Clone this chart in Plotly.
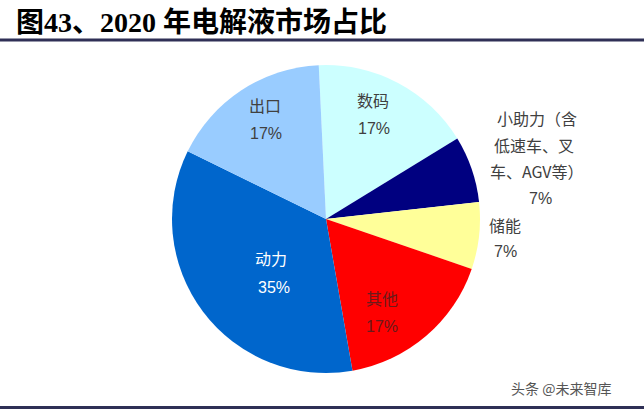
import plotly.graph_objects as go

# ---- data ----
categories = ["数码", "小助力（含低速车、叉车、AGV等）", "储能", "其他", "动力", "出口"]
values = [17, 7, 7, 17, 35, 17]
colors = ["#ccffff", "#000080", "#ffff99", "#ff0000", "#0066cc", "#99ccff"]
pct_labels = [f"{v}%" for v in values]
label_lines = [["数码"], ["小助力（含", "低速车、叉", "车、AGV等）"], ["储能"], ["其他"], ["动力"], ["出口"]]
title_text = "图43、2020 年电解液市场占比"
watermark = "头条 @未来智库"

W, H = 644, 416
cx, cy, r = 326, 219, 154

fig = go.Figure()
fig.add_trace(go.Pie(
    labels=categories, values=values, sort=False, direction="clockwise",
    rotation=-2.7, marker=dict(colors=colors, line=dict(width=0)),
    textinfo="none", hoverinfo="label+percent", showlegend=False,
    domain=dict(x=[(cx - r) / W, (cx + r) / W], y=[1 - (cy + r) / H, 1 - (cy - r) / H]),
))

def px(x):
    return x / W

def py(y):
    return 1 - y / H

# label placement (pixel positions for each text line), styling only
label_pos = {
    0: dict(lines=[(373, 100)], pct=(374, 128), color="#404040"),
    1: dict(lines=[(537, 118), (534, 145), (537, 171)], pct=(540, 198), color="#404040"),
    2: dict(lines=[(505, 225)], pct=(505, 252), color="#404040"),
    3: dict(lines=[(382, 298)], pct=(382, 326), color="#6a1a1a"),
    4: dict(lines=[(271, 258)], pct=(274, 287), color="#ffffff"),
    5: dict(lines=[(265, 105)], pct=(266, 133), color="#404040"),
}
cjk = "Noto Sans CJK SC"
for i, info in label_pos.items():
    for txt, (x, y) in zip(label_lines[i], info["lines"]):
        fig.add_annotation(x=px(x), y=py(y), xref="paper", yref="paper", text=txt,
                           showarrow=False, xanchor="center", yanchor="middle",
                           font=dict(family=cjk, size=16, color=info["color"]))
    x, y = info["pct"]
    fig.add_annotation(x=px(x), y=py(y), xref="paper", yref="paper", text=pct_labels[i],
                       showarrow=False, xanchor="center", yanchor="middle",
                       font=dict(family="Liberation Sans, Arial", size=16, color=info["color"]))

# title
fig.add_annotation(x=px(14), y=py(22), xref="paper", yref="paper", text=f"<b>{title_text}</b>",
                   showarrow=False, xanchor="left", yanchor="middle",
                   font=dict(family="Liberation Serif, Noto Sans CJK SC", size=28, color="#000000"))
# watermark
fig.add_annotation(x=px(613), y=py(388), xref="paper", yref="paper", text=watermark,
                   showarrow=False, xanchor="right", yanchor="middle",
                   font=dict(family=cjk, size=14, color="#555555"))

# rule lines
for yy in (40, 407.5):
    fig.add_shape(type="line", xref="paper", yref="paper", x0=0, x1=1, y0=py(yy), y1=py(yy),
                  line=dict(color="#2f3056", width=3))

fig.update_layout(width=W, height=H, margin=dict(l=0, r=0, t=0, b=0),
                  paper_bgcolor="white", plot_bgcolor="white")
fig.write_html("out.html", config={"displayModeBar": False},
               post_script="document.body.style.margin='0';document.body.style.overflow='hidden';")
